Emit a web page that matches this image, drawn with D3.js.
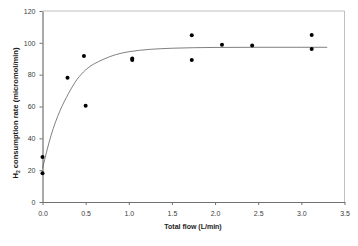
<!DOCTYPE html>
<html>
<head>
<meta charset="utf-8">
<script src="https://cdn.jsdelivr.net/npm/d3@7"></script>
<style>
    body { margin: 0; background: #fff; }
    text { font-family: 'Liberation Sans', Arial, sans-serif; }
</style>
</head>
<body>
<script>
// measured points (flow L/min, H2 consumption micromol/min)
const flowValues = [0, 0, 0.29, 0.48, 0.50, 1.04, 1.04, 1.73, 1.73, 2.08, 2.43, 3.12, 3.12];
const rateValues = [28.3, 18, 78, 91.7, 60.5, 89.2, 90.2, 104.7, 89.2, 98.8, 98.4, 105, 96.1];

// fitted curve
const fitFlow = [0, 0.1, 0.2, 0.3, 0.4, 0.5, 0.7, 1.0, 1.5, 2.0, 2.5, 3.0, 3.3];
const fitRate = [21, 42, 57, 68, 77, 83, 89.5, 94.4, 96.6, 97.1, 97.2, 97.2, 97.2];

const xTicks = [0, 0.5, 1.0, 1.5, 2.0, 2.5, 3.0, 3.5];
const yTicks = [0, 20, 40, 60, 80, 100, 120];

drawChart();

function drawChart()
{
    const svgWidth = 358;
    const svgHeight = 246;
    const margin = {left: 42.5, right: 13.5, top: 11, bottom: 44};

    const svg = d3.select('body')
        .append('svg')
        .attr('width', svgWidth)
        .attr('height', svgHeight);

    const x = d3.scaleLinear()
        .domain([0, 3.5])
        .range([margin.left, svgWidth - margin.right]);

    const y = d3.scaleLinear()
        .domain([0, 120])
        .range([svgHeight - margin.bottom, margin.top]);

    // light frame on top and right
    svg.append('path')
        .attr('d', `M${x(0)},${y(120)}H${x(3.5)}V${y(0)}`)
        .attr('fill', 'none')
        .attr('stroke', '#b0b0b0')
        .attr('stroke-width', 0.8);

    // axes
    const xAxis = svg.append('g')
        .attr('transform', `translate(0,${y(0)})`)
        .call(d3.axisBottom(x).tickValues(xTicks).tickFormat(d3.format('.1f')).tickSize(3).tickSizeOuter(0));

    const yAxis = svg.append('g')
        .attr('transform', `translate(${x(0)},0)`)
        .call(d3.axisLeft(y).tickValues(yTicks).tickSize(3).tickSizeOuter(0));

    [xAxis, yAxis].forEach(a =>
    {
        a.select('.domain').attr('stroke', '#707070').attr('stroke-width', 1.2);
        a.selectAll('.tick line').attr('stroke', '#707070');
        a.selectAll('.tick text')
            .attr('fill', '#404040')
            .style('font-size', '7px');
    });
    xAxis.selectAll('.tick text').attr('dy', '1.2em');
    yAxis.selectAll('.tick text').attr('dx', '-1px');

    // fitted curve
    const line = d3.line()
        .x((d, i) => x(fitFlow[i]))
        .y(d => y(d))
        .curve(d3.curveMonotoneX);

    svg.append('path')
        .datum(fitRate)
        .attr('d', line)
        .attr('fill', 'none')
        .attr('stroke', '#606060')
        .attr('stroke-width', 0.8);

    // data points
    svg.selectAll('circle.pt')
        .data(flowValues)
        .enter()
        .append('circle')
        .attr('class', 'pt')
        .attr('cx', d => x(d))
        .attr('cy', (d, i) => y(rateValues[i]))
        .attr('r', 2)
        .attr('fill', '#000');

    // axis titles
    svg.append('text')
        .attr('x', 193)
        .attr('y', 229)
        .attr('text-anchor', 'middle')
        .style('font-size', '7px')
        .style('font-weight', 'bold')
        .attr('fill', '#222')
        .text('Total flow (L/min)');

    const yTitle = svg.append('text')
        .attr('transform', `translate(17.5,113) rotate(-90)`)
        .attr('text-anchor', 'middle')
        .style('font-size', '7.6px')
        .style('font-weight', 'bold')
        .attr('fill', '#222');
    yTitle.append('tspan').text('H');
    yTitle.append('tspan').attr('dy', 2).style('font-size', '5px').text('2');
    yTitle.append('tspan').attr('dy', -2).text(' consumption rate (micromol/min)');
}
</script>
</body>
</html>
